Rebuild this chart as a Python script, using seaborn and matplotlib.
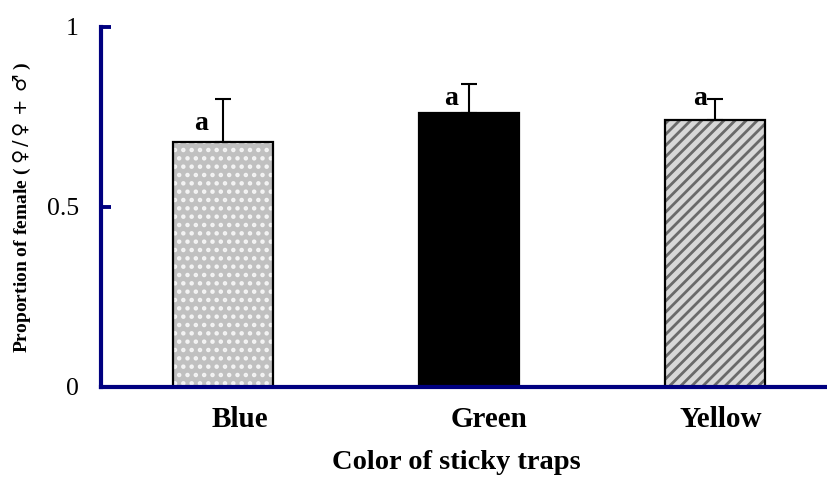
import matplotlib
matplotlib.use("Agg")
import matplotlib.pyplot as plt
import matplotlib.transforms as mtransforms
import seaborn as sns
import pandas as pd
from matplotlib.patches import Rectangle

categories = ["Blue", "Green", "Yellow"]
means = [0.68, 0.76, 0.74]
errors = [0.12, 0.08, 0.06]
letters = ["a", "a", "a"]
yticks = [0, 0.5, 1]
yticklabels = ["0", "0.5", "1"]

sns.set_theme(style="white")
plt.rcParams["font.family"] = ["Liberation Serif", "DejaVu Serif"]
plt.rcParams["hatch.linewidth"] = 2.0
plt.rcParams["mathtext.fontset"] = "custom"
plt.rcParams["mathtext.rm"] = "DejaVu Sans"
for k in ["text.color", "axes.labelcolor", "xtick.labelcolor", "ytick.labelcolor"]:
    plt.rcParams[k] = "black"

navy = "#000080"
fig = plt.figure(figsize=(8.28, 4.8), dpi=100)
ax = fig.add_axes([0.122, 0.194, 0.878, 0.750])

df = pd.DataFrame({"cat": categories, "val": means})
sns.barplot(data=df, x="cat", y="val", ax=ax, width=0.407,
            color="black", errorbar=None, saturation=1)

faces = ["#c0c0c0", "#000000", "#d8d8d8"]
hatches = ["..", None, "///"]
hcolors = ["#f4f4f4", "#000000", "#6a6a6a"]
for p, fc, h, hc in zip(ax.patches, faces, hatches, hcolors):
    p.set_facecolor(fc)
    p.set_edgecolor(hc)
    p.set_linewidth(0)
    if h:
        p.set_hatch(h)
    ax.add_patch(Rectangle((p.get_x(), p.get_y()), p.get_width(), p.get_height(),
                           fill=False, edgecolor="black", linewidth=1.6, zorder=3))

xs = list(range(len(categories)))
ax.errorbar(xs, means, yerr=[[0] * len(means), errors], fmt="none",
            ecolor="black", elinewidth=1.5, capsize=6, capthick=1.5, zorder=2)

offsets = [(-22, 6), (-18, 2), (-15, 9)]
for x, m, lab, off in zip(xs, means, letters, offsets):
    ax.annotate(lab, (x, m), xytext=off, textcoords="offset pixels",
                ha="center", va="bottom", fontsize=20, fontweight="bold")

ax.set_xlim(-0.496, 2.459)
ax.set_ylim(0, 1)
ax.set_yticks(yticks)
ax.set_yticklabels(yticklabels, fontsize=18.5)
ax.tick_params(axis="y", direction="in", length=7, width=2.8, color=navy,
               pad=16, left=True)
ax.tick_params(axis="x", length=0, pad=14)
label_shift_px = [17, 20, 6]
for t, dx in zip(ax.get_xticklabels(), label_shift_px):
    t.set_fontsize(21)
    t.set_fontweight("bold")
    t.set_transform(t.get_transform() +
                    mtransforms.ScaledTranslation(dx / 100, 0, fig.dpi_scale_trans))

for s in ["top", "right"]:
    ax.spines[s].set_visible(False)
for s in ["left", "bottom"]:
    ax.spines[s].set_color(navy)
    ax.spines[s].set_linewidth(3.0)
    ax.spines[s].set_zorder(5)

ax.set_xlabel("Color of sticky traps", fontsize=20.5, fontweight="bold")
ax.xaxis.set_label_coords(0.489, -0.176)
ax.set_ylabel("Proportion of female ( $\u2640\\,/\\,\u2640\\,+\\,\u2642$ )", fontsize=14,
              fontweight="bold")
ax.yaxis.set_label_coords(-0.0935, 0.5)

fig.savefig("out.png", dpi=100, facecolor="white")
